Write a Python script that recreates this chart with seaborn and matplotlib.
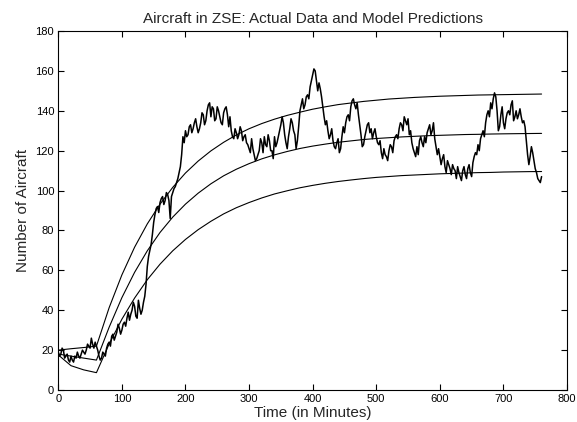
import numpy as np
import pandas as pd
import matplotlib
matplotlib.use("Agg")
import matplotlib.pyplot as plt
import seaborn as sns

# ---- data ----
# actual data, sampled every 2 minutes (0 .. 760)
actual_time = list(range(0, 761, 2))
actual_count = [
    19, 17, 18, 21, 20, 16, 17, 18, 15, 14,
    17, 15, 14, 17, 16, 19, 17, 16, 18, 20,
    19, 18, 20, 23, 22, 21, 26, 23, 21, 24,
    22, 20, 17, 15, 16, 19, 18, 17, 21, 23,
    24, 22, 27, 28, 25, 27, 29, 33, 31, 28,
    30, 33, 34, 32, 36, 39, 35, 38, 40, 44,
    42, 37, 36, 45, 41, 38, 40, 44, 47, 53,
    62, 67, 70, 73, 78, 84, 88, 91, 92, 89,
    94, 96, 97, 93, 95, 99, 98, 95, 86, 97,
    99, 101, 102, 104, 106, 109, 112, 118, 127, 124,
    130, 127, 128, 132, 133, 129, 131, 134, 136, 132,
    129, 131, 134, 139, 138, 133, 135, 140, 143, 144,
    137, 142, 141, 135, 136, 142, 140, 137, 134, 133,
    139, 141, 142, 138, 132, 137, 130, 127, 126, 131,
    129, 126, 128, 132, 130, 125, 127, 128, 124, 123,
    121, 119, 126, 121, 118, 115, 116, 118, 120, 126,
    124, 119, 127, 123, 122, 128, 125, 120, 120, 116,
    127, 122, 124, 127, 130, 133, 137, 134, 128, 124,
    121, 127, 131, 136, 134, 130, 128, 121, 125, 132,
    140, 143, 146, 141, 143, 147, 148, 146, 152, 155,
    158, 161, 160, 155, 150, 154, 151, 147, 142, 137,
    133, 135, 130, 126, 128, 131, 125, 122, 121, 124,
    126, 119, 121, 127, 132, 129, 134, 137, 138, 135,
    142, 145, 146, 143, 141, 144, 138, 133, 128, 122,
    123, 127, 130, 133, 134, 129, 131, 126, 129, 131,
    127, 124, 123, 125, 119, 116, 121, 118, 117, 115,
    120, 123, 122, 119, 125, 127, 128, 126, 131, 134,
    133, 130, 137, 135, 133, 136, 128, 130, 124, 121,
    119, 117, 122, 118, 125, 127, 124, 122, 127, 124,
    129, 131, 133, 128, 130, 134, 126, 122, 118, 121,
    117, 113, 116, 118, 112, 109, 115, 113, 111, 108,
    113, 111, 110, 106, 112, 109, 107, 105, 110, 112,
    108, 106, 111, 113, 109, 107, 114, 117, 119, 118,
    123, 120, 126, 128, 130, 127, 134, 138, 140, 137,
    144, 141, 146, 149, 147, 140, 130, 132, 138, 142,
    134, 131, 136, 139, 140, 138, 143, 145, 135, 137,
    140, 136, 138, 141, 137, 134, 135, 132, 125, 118,
    113, 117, 122, 119, 115, 111, 109, 106, 105, 104,
    107,
]

# model predictions
model_time = [0, 20, 40] + list(range(60, 761, 20))
model_high = [20.0, 20.7, 21.3, 22.0, 41.3, 57.7, 71.6, 83.3, 93.2, 101.6, 108.8,
              114.8, 119.9, 124.2, 127.9, 131.0, 133.6, 135.8, 137.7, 139.3,
              140.8, 142.0, 143.1, 143.9, 144.7, 145.3, 145.9, 146.3, 146.7,
              147.0, 147.3, 147.5, 147.7, 147.9, 148.0, 148.1, 148.2, 148.3, 148.4]
model_mid = [18.0, 17.0, 16.0, 15.0, 31.5, 46.3, 59.0, 69.8, 79.0, 86.7, 93.2,
             98.7, 103.4, 107.4, 110.7, 113.5, 115.9, 117.9, 119.6, 121.1, 122.3,
             123.3, 124.2, 124.9, 125.6, 126.1, 126.5, 126.9, 127.2, 127.5, 127.7,
             127.9, 128.1, 128.2, 128.35, 128.45, 128.53, 128.6, 128.67]
model_low = [17.6, 12.2, 10.1, 8.7, 23.1, 35.5, 46.1, 55.3, 63.1, 69.8, 75.5,
             80.4, 84.6, 88.3, 91.4, 94.0, 96.3, 98.3, 99.9, 101.4, 102.6, 103.65,
             104.55, 105.3, 106.0, 106.6, 107.05, 107.5, 107.8, 108.1, 108.4,
             108.6, 108.8, 109.0, 109.1, 109.3, 109.4, 109.5, 109.55]

x_ticks = list(range(0, 801, 100))
y_ticks = list(range(0, 181, 20))

# ---- plot ----
sns.set_theme(style="ticks")
plt.rcParams["font.family"] = ["Liberation Sans", "DejaVu Sans"]

fig = plt.figure(figsize=(5.77, 4.22), dpi=100)
ax = fig.add_axes([0.101, 0.0758, 0.8817, 0.8507])

df_actual = pd.DataFrame({"t": actual_time, "n": actual_count})
sns.lineplot(data=df_actual, x="t", y="n", ax=ax, color="black", lw=1.1)
for series in (model_high, model_mid, model_low):
    dfm = pd.DataFrame({"t": model_time, "n": series})
    sns.lineplot(data=dfm, x="t", y="n", ax=ax, color="black", lw=0.8)

ax.set_xlim(0, 800)
ax.set_ylim(0, 180)
ax.set_xticks(x_ticks)
ax.set_yticks(y_ticks)
ax.tick_params(direction="in", top=True, right=True, length=4, width=0.8,
               labelsize=8, colors="black", pad=3)
for s in ax.spines.values():
    s.set_visible(True)
    s.set_color("black")
    s.set_linewidth(0.8)

ax.set_title("Aircraft in ZSE: Actual Data and Model Predictions", fontsize=11, pad=6)
ax.set_xlabel("Time (in Minutes)", fontsize=11, labelpad=1)
ax.set_ylabel("Number of Aircraft", fontsize=11, labelpad=4)

fig.savefig("out.png", dpi=100, facecolor="white")
